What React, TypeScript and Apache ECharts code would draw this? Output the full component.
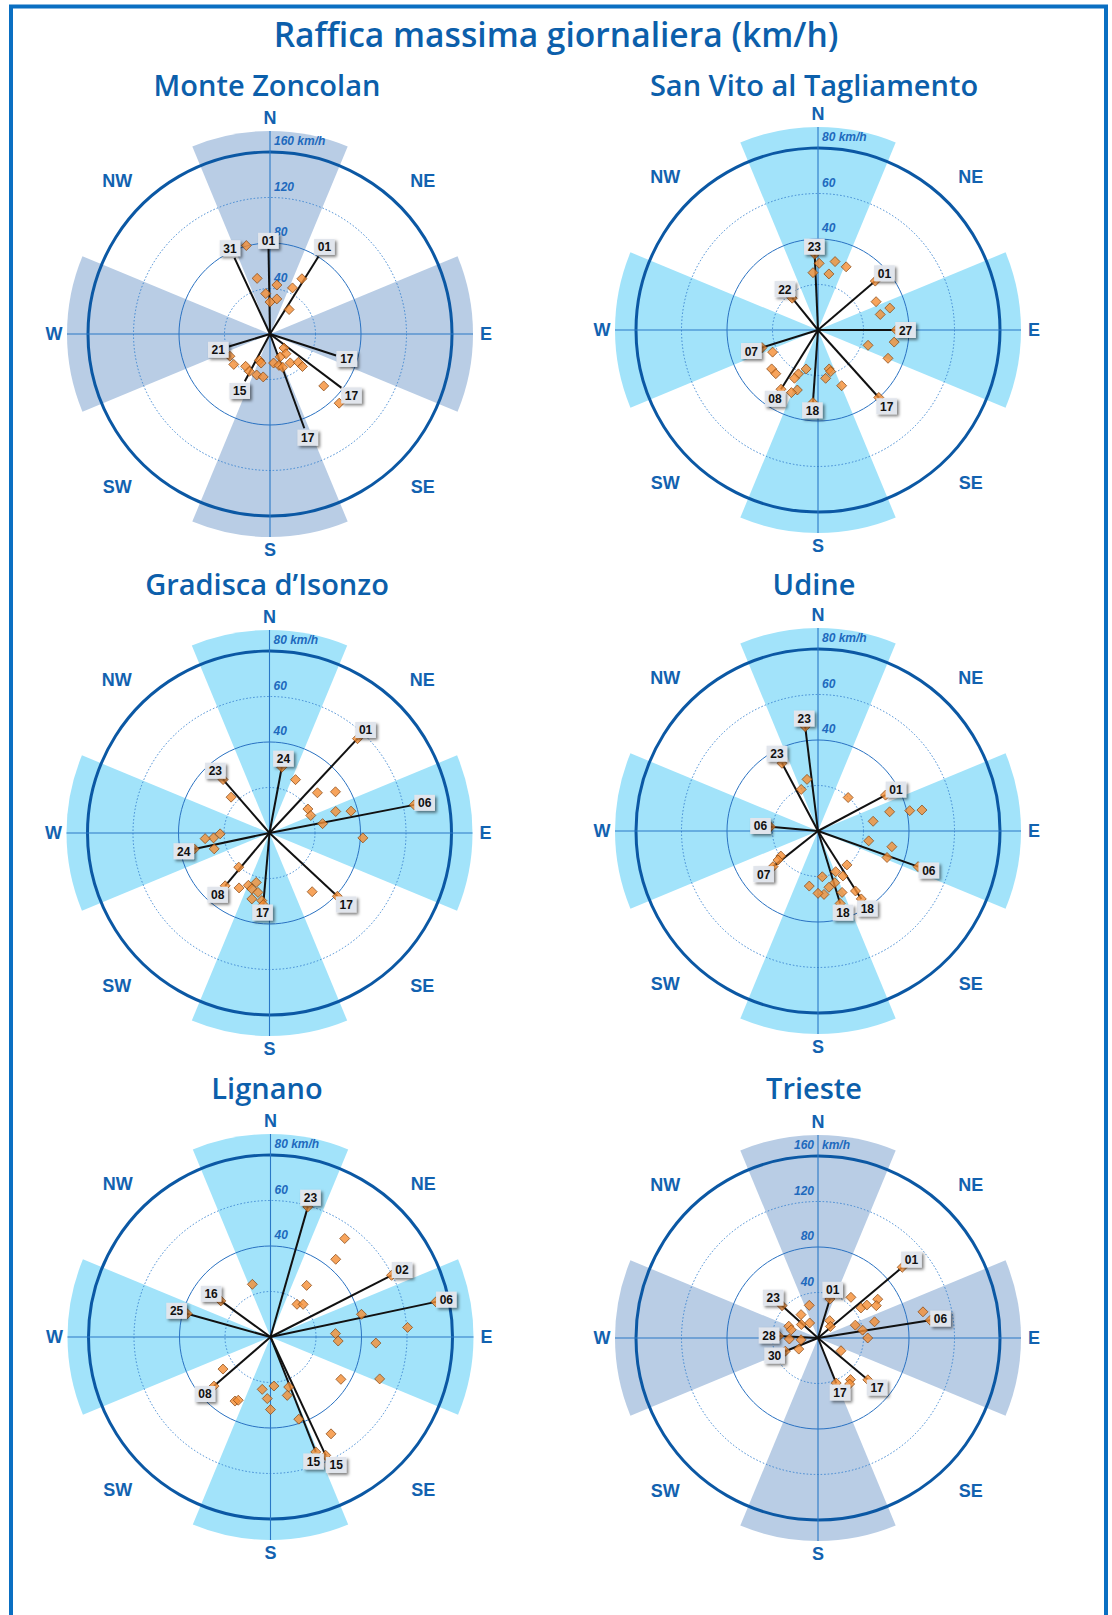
import React, { useEffect, useRef } from 'react';
import * as echarts from 'echarts';

// ---------- texts ----------
const MAIN_TITLE = 'Raffica massima giornaliera (km/h)';
const STATIONS = ['Monte Zoncolan', 'San Vito al Tagliamento', 'Gradisca d\u2019Isonzo', 'Udine', 'Lignano', 'Trieste'];
const SCALE_MAX = [160, 80, 80, 80, 80, 160];
const COMPASS = ['N', 'NE', 'E', 'SE', 'S', 'SW', 'W', 'NW'];
const COMPASS_BEARINGS = [0, 45, 90, 135, 180, 225, 270, 315];
const SECTOR_BEARINGS = [0, 90, 180, 270];
const SECTOR_HALF_WIDTH = 22.5;
const AXIS_BEARINGS = [0, 90];
const RINGS_160 = [40, 80, 120, 160];
const RINGS_80 = [20, 40, 60, 80];
const RING_LABELS_160 = ['40', '80', '120', '160 km/h'];
const RING_LABELS_80 = ['', '40', '60', '80 km/h'];
const RING_LABELS_TRIESTE = ['40', '80', '120', '160'];
const UNIT = 'km/h';

// ---------- data: [speed km/h, direction deg] ----------
const zoncolanPoints = [[80.5, 345], [50.2, 347], [43.5, 8], [35.7, 354], [31.4, 11], [28.1, 0], [45.1, 26], [56.1, 30], [27.3, 38], [17.4, 135], [22.3, 141], [22.0, 156], [25.7, 173], [28.7, 164], [31.4, 159], [31.0, 145], [35.2, 135], [40.4, 135], [65.7, 134], [86.0, 135], [25.0, 202], [26.7, 197], [40.3, 241], [41.6, 230], [35.6, 217], [37.5, 209], [37.9, 198], [38.2, 189]];
const zoncolanLines = [[75.6, 359, '01'], [80.4, 32, '01'], [73.9, 335, '31'], [37.7, 253, '21'], [47.1, 208, '15'], [61.1, 108, '17'], [79.1, 127, '17'], [88.2, 160, '17']];

const sanVitoPoints = [[29.3, 1], [25.3, 355], [31.0, 14], [30.4, 24], [25.1, 11], [28.4, 64], [33.0, 73], [28.2, 76], [23.0, 107], [33.9, 99], [33.2, 112], [26.6, 157], [17.8, 164], [19.1, 163], [21.5, 171], [17.9, 197], [21.1, 204], [23.6, 206], [27.9, 199], [29.9, 203], [22.2, 244], [26.6, 230], [26.7, 224]];
const sanVitoLines = [[33.4, 357.5, '23'], [18.0, 321, '22'], [33.1, 49.5, '01'], [34.4, 90, '27'], [39.9, 138, '17'], [32.0, 184, '18'], [30.7, 212, '08'], [25.8, 252.5, '07']];

const gradiscaPoints = [[26.1, 26], [27.5, 50], [34.2, 58], [19.9, 58], [19.7, 67], [30.6, 72], [37.1, 75], [23.7, 80], [41.1, 93], [31.9, 144], [23.1, 313], [21.7, 269], [24.7, 265], [28.4, 265], [25.3, 254], [20.2, 222], [27.6, 209], [24.8, 202], [22.5, 195], [25.8, 197.5], [26.6, 191], [30.0, 195], [29.9, 186.5]];
const gradiscaLines = [[29.4, 10.6, '24'], [56.7, 43, '01'], [64.8, 79, '06'], [40.8, 133, '17'], [31.6, 185, '17'], [30.3, 220, '08'], [33.8, 258, '24'], [31.1, 319, '23']];

const udinePoints = [[23.2, 348], [19.7, 338], [19.8, 42], [32.6, 75], [41.3, 77.5], [46.6, 78.6], [24.6, 80], [22.7, 101], [33.2, 102], [32.5, 111], [19.6, 139.5], [19.5, 156.5], [22.6, 151], [23.9, 162], [25.2, 169], [29.0, 158.6], [31.1, 148], [20.2, 174.6], [28.0, 174.6], [27.4, 180], [24.5, 189], [19.7, 236], [21.7, 234]];
const udineLines = [[46.2, 353, '23'], [33.7, 332, '23'], [33.6, 62, '01'], [46.7, 109.6, '06'], [35.4, 147.5, '18'], [33.3, 163, '18'], [25.2, 231.6, '07'], [21.0, 275, '06']];

const lignanoPoints = [[54.2, 37], [44.6, 40], [27.7, 35], [18.5, 39], [20.3, 45], [24.5, 341], [41.2, 76], [60.4, 86], [28.6, 87], [29.8, 93.4], [46.4, 93.3], [51.4, 111], [36.1, 121], [50.2, 148], [38.2, 161], [23.4, 160], [26.7, 164], [21.6, 176], [23.3, 189], [27.1, 183], [31.9, 180], [25.2, 236], [32.2, 209], [31.2, 207]];
const lignanoLines = [[59.5, 16, '23'], [59.7, 63, '02'], [74.3, 78, '06'], [54.3, 158.5, '15'], [57.4, 155, '15'], [32.9, 229, '08'], [38.0, 285.6, '25'], [27.0, 306, '16']];

const triestePoints = [[29.7, 345], [25.4, 324], [18.8, 309], [15.1, 331], [27.7, 292], [24.6, 287], [25.2, 268], [15.0, 264], [19.5, 240], [18.4, 34], [14.9, 47], [46.0, 39], [46.1, 55], [51.8, 56], [62.6, 57], [58.6, 61], [51.7, 74], [34.7, 71], [39.8, 80], [43.7, 90], [95.1, 76], [23.1, 119], [46.4, 142], [49.1, 145.5]];
const triesteLines = [[35.8, 17, '01'], [96.7, 50, '01'], [99.9, 81, '06'], [57.2, 130, '17'], [42.7, 158, '17'], [31.0, 248, '30'], [34.6, 273, '28'], [42.5, 312, '23']];

const POINTS = [zoncolanPoints, sanVitoPoints, gradiscaPoints, udinePoints, lignanoPoints, triestePoints];
const LINES = [zoncolanLines, sanVitoLines, gradiscaLines, udineLines, lignanoLines, triesteLines];

// ---------- layout / style ----------
const W = 1112;
const H = 1615;
const RADIUS = 182;
const SECTOR_EXTENT = 203 / 182;
const COMPASS_EXTENT = 216 / 182;
const GREYBLUE = '#b9cde5';
const CYAN = '#a2e3fa';
const TITLE_BLUE = '#0c5fab';
const BOX_H = 16;

const LAYOUT = [
  { cx: 270, cy: 334, tx: 267, ty: 84, fill: GREYBLUE, labels: RING_LABELS_160, side: 'right', unit: false, endMarks: false },
  { cx: 818, cy: 330, tx: 814, ty: 84, fill: CYAN, labels: RING_LABELS_80, side: 'right', unit: false, endMarks: true },
  { cx: 269.5, cy: 833, tx: 267, ty: 583, fill: CYAN, labels: RING_LABELS_80, side: 'right', unit: false, endMarks: true },
  { cx: 818, cy: 831, tx: 814, ty: 583, fill: CYAN, labels: RING_LABELS_80, side: 'right', unit: false, endMarks: true },
  { cx: 270.5, cy: 1337, tx: 267, ty: 1087, fill: CYAN, labels: RING_LABELS_80, side: 'right', unit: false, endMarks: true },
  { cx: 818, cy: 1338, tx: 814, ty: 1087, fill: GREYBLUE, labels: RING_LABELS_TRIESTE, side: 'left', unit: true, endMarks: true },
];

const boxWidth = (t: string) => t.length * 6.8 + 7;

// label boxes placed just outside each line's end, pushed apart horizontally when they collide
function placeBoxes(lines: any[], api: any) {
  const c = api.coord([0, 0]);
  const boxes = lines.map((l) => {
    const p = api.coord([l[0], l[1]]);
    const dx = p[0] - c[0];
    const dy = p[1] - c[1];
    const len = Math.hypot(dx, dy) || 1;
    const ux = dx / len;
    const uy = dy / len;
    const w = boxWidth(String(l[2]));
    const k = Math.abs(ux) * (w / 2) + Math.abs(uy) * (BOX_H / 2) - 1;
    return { x: p[0] + ux * k, y: p[1] + uy * k, w, px: p[0] };
  });
  for (let it = 0; it < 4; it++) {
    for (let a = 0; a < boxes.length; a++) {
      for (let b = a + 1; b < boxes.length; b++) {
        const A = boxes[a];
        const B = boxes[b];
        const ox = (A.w + B.w) / 2 + 2 - Math.abs(A.x - B.x);
        const oy = BOX_H + 1 - Math.abs(A.y - B.y);
        if (ox > 0 && oy > 0) {
          const s = A.px < B.px || (A.px === B.px && A.x <= B.x) ? -1 : 1;
          A.x += (s * ox) / 2;
          B.x -= (s * ox) / 2;
        }
      }
    }
  }
  return boxes;
}

function panelSeries(i: number): any[] {
  const L = LAYOUT[i];
  const max = SCALE_MAX[i];
  const rings = max === 160 ? RINGS_160 : RINGS_80;
  const lines = LINES[i];
  const base = { type: 'custom', coordinateSystem: 'polar', polarIndex: i, silent: true, animation: false };

  const sectors = {
    ...base, z: 1,
    data: SECTOR_BEARINGS.map((b) => [max * SECTOR_EXTENT, b]),
    renderItem: (params: any, api: any) => {
      const c = api.coord([0, 0]);
      const p = api.coord([api.value(0), api.value(1)]);
      const r = Math.hypot(p[0] - c[0], p[1] - c[1]);
      const a = Math.atan2(p[1] - c[1], p[0] - c[0]);
      const hw = (SECTOR_HALF_WIDTH * Math.PI) / 180;
      return {
        type: 'sector',
        shape: { cx: c[0], cy: c[1], r0: 0, r, startAngle: a - hw, endAngle: a + hw, clockwise: true },
        style: { fill: L.fill },
      };
    },
  };

  const ringSeries = {
    ...base, z: 2,
    data: rings.map((v) => [v, 0]),
    renderItem: (params: any, api: any) => {
      const c = api.coord([0, 0]);
      const p = api.coord([api.value(0), api.value(1)]);
      const r = Math.hypot(p[0] - c[0], p[1] - c[1]);
      const idx = params.dataIndex;
      const last = idx === rings.length - 1;
      const dotted = idx % 2 === 0;
      return {
        type: 'circle',
        shape: { cx: c[0], cy: c[1], r },
        style: {
          fill: 'none',
          stroke: last ? '#0b58a4' : dotted ? '#3d86d2' : '#2a72c2',
          lineWidth: last ? 3 : 1,
          lineDash: dotted && !last ? [1.5, 2] : null,
        },
      };
    },
  };

  const axisSeries = {
    ...base, z: 2,
    data: AXIS_BEARINGS.map((b) => [max * SECTOR_EXTENT, b]),
    renderItem: (params: any, api: any) => {
      const p1 = api.coord([api.value(0), api.value(1)]);
      const p2 = api.coord([api.value(0), api.value(1) + 180]);
      return {
        type: 'line',
        shape: { x1: p1[0], y1: p1[1], x2: p2[0], y2: p2[1] },
        style: { stroke: '#2a78c6', lineWidth: 1.1 },
      };
    },
  };

  const ringLabelSeries = {
    ...base, z: 3,
    data: rings.map((v) => [v, 0]),
    renderItem: (params: any, api: any) => {
      const idx = params.dataIndex;
      const txt = L.labels[idx];
      if (!txt) return null;
      const p = api.coord([api.value(0), api.value(1)]);
      const font = 'italic bold 12px "Liberation Sans", Arial, sans-serif';
      const children: any[] = [
        {
          type: 'text',
          x: L.side === 'right' ? p[0] + 4 : p[0] - 4,
          y: p[1] - 11,
          style: {
            text: txt, font, fill: '#2069bd',
            align: L.side === 'right' ? 'left' : 'right', textAlign: L.side === 'right' ? 'left' : 'right',
            verticalAlign: 'middle', textVerticalAlign: 'middle',
          },
        },
      ];
      if (L.unit && idx === rings.length - 1) {
        children.push({
          type: 'text', x: p[0] + 4, y: p[1] - 11,
          style: { text: UNIT, font, fill: '#2069bd', align: 'left', textAlign: 'left', verticalAlign: 'middle', textVerticalAlign: 'middle' },
        });
      }
      return { type: 'group', children };
    },
  };

  const compassSeries = {
    ...base, z: 3,
    data: COMPASS_BEARINGS.map((b) => [max * COMPASS_EXTENT, b]),
    renderItem: (params: any, api: any) => {
      const p = api.coord([api.value(0), api.value(1)]);
      return {
        type: 'text', x: p[0], y: p[1],
        style: {
          text: COMPASS[params.dataIndex], font: 'bold 18px "Liberation Sans", Arial, sans-serif', fill: '#1262b0',
          align: 'center', textAlign: 'center', verticalAlign: 'middle', textVerticalAlign: 'middle',
        },
      };
    },
  };

  const lineSeries = {
    ...base, z: 4,
    data: lines.map((l) => [l[0], l[1]]),
    renderItem: (params: any, api: any) => {
      const c = api.coord([0, 0]);
      const p = api.coord([api.value(0), api.value(1)]);
      return {
        type: 'line',
        shape: { x1: c[0], y1: c[1], x2: p[0], y2: p[1] },
        style: { stroke: '#111111', lineWidth: 2 },
      };
    },
  };

  const scatterData = (POINTS[i] as any[]).concat(L.endMarks ? lines.map((l) => [l[0], l[1]]) : []);
  const scatter = {
    type: 'scatter', coordinateSystem: 'polar', polarIndex: i, z: 5, silent: true, animation: false,
    symbol: 'diamond', symbolSize: 10,
    itemStyle: { color: '#f58d33', borderColor: '#85440f', borderWidth: 0.9 },
    data: scatterData,
  };

  const boxSeries = {
    ...base, z: 6,
    data: lines.map((l) => [l[0], l[1]]),
    renderItem: (params: any, api: any) => {
      const boxes = placeBoxes(lines, api);
      const bx = boxes[params.dataIndex];
      const text = String(lines[params.dataIndex][2]);
      return {
        type: 'group',
        children: [
          {
            type: 'rect',
            shape: { x: bx.x - bx.w / 2, y: bx.y - BOX_H / 2, width: bx.w, height: BOX_H },
            style: { fill: '#e1e5ec', shadowColor: 'rgba(0,0,0,0.5)', shadowBlur: 3, shadowOffsetX: 2, shadowOffsetY: 2 },
          },
          {
            type: 'text', x: bx.x, y: bx.y + 0.5,
            style: {
              text, font: 'bold 12px "Liberation Sans", Arial, sans-serif', fill: '#111111',
              align: 'center', textAlign: 'center', verticalAlign: 'middle', textVerticalAlign: 'middle',
            },
          },
        ],
      };
    },
  };

  return [sectors, ringSeries, axisSeries, ringLabelSeries, compassSeries, lineSeries, scatter, boxSeries];
}

function buildOption(): any {
  const titleTexts = LAYOUT.map((L, i) => ({
    type: 'text', x: L.tx, y: L.ty, silent: true,
    style: {
      text: STATIONS[i], font: '600 29px "Open Sans", "Noto Sans", sans-serif', fill: TITLE_BLUE,
      align: 'center', textAlign: 'center', verticalAlign: 'middle', textVerticalAlign: 'middle',
    },
  }));
  return {
    animation: false,
    backgroundColor: '#ffffff',
    polar: LAYOUT.map((L) => ({ center: [L.cx, L.cy], radius: [0, RADIUS] })),
    angleAxis: LAYOUT.map((L, i) => ({
      polarIndex: i, type: 'value', min: 0, max: 360, startAngle: 90, clockwise: true, show: false,
      axisLine: { show: false }, axisTick: { show: false }, axisLabel: { show: false }, splitLine: { show: false },
    })),
    radiusAxis: LAYOUT.map((L, i) => ({
      polarIndex: i, type: 'value', min: 0, max: SCALE_MAX[i], show: false,
      axisLine: { show: false }, axisTick: { show: false }, axisLabel: { show: false }, splitLine: { show: false },
    })),
    graphic: {
      elements: [
        {
          type: 'rect', silent: true, z: 0,
          shape: { x: 11, y: 6.5, width: 1095, height: 1640 },
          style: { fill: 'none', stroke: '#0a6fc2', lineWidth: 4 },
        },
        {
          type: 'text', x: 556, y: 34, silent: true,
          style: {
            text: MAIN_TITLE, font: '600 33.6px "Open Sans", "Noto Sans", sans-serif', fill: TITLE_BLUE,
            align: 'center', textAlign: 'center', verticalAlign: 'middle', textVerticalAlign: 'middle',
          },
        },
        ...titleTexts,
      ],
    },
    series: LAYOUT.flatMap((L, i) => panelSeries(i)),
  };
}

export default function App() {
  const ref = useRef<HTMLDivElement>(null);
  useEffect(() => {
    if (!ref.current) return;
    const chart = echarts.init(ref.current, undefined, { renderer: 'svg', width: W, height: H });
    chart.setOption(buildOption());
    return () => chart.dispose();
  }, []);
  return (
    <div style={{ position: 'absolute', left: 0, top: 0, width: W, height: H, background: '#fff', overflow: 'hidden' }}>
      <div ref={ref} style={{ width: W, height: H }} />
    </div>
  );
}
